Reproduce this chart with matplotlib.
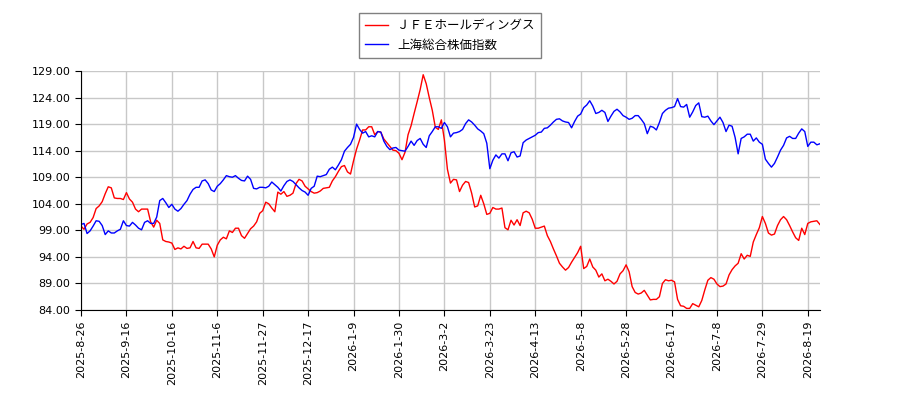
import matplotlib
matplotlib.use('Agg')
import matplotlib.pyplot as plt
from matplotlib.ticker import FormatStrFormatter

plt.rcParams['font.family'] = ['Noto Sans CJK JP', 'DejaVu Sans']

# JFE holdings, relative price (first day = 100)
jfe = [
    99.8, 99.2, 100.2, 100.5, 101.4, 103.1, 103.6, 104.4, 105.9, 107.2,
    107.0, 105.1, 105.0, 105.0, 104.8, 106.1, 104.9, 104.3, 103.0, 102.5,
    103.0, 103.0, 103.0, 100.6, 99.6, 100.9, 100.3, 97.2, 96.9, 96.8,
    96.6, 95.4, 95.7, 95.5, 96.0, 95.6, 95.7, 96.9, 95.7, 95.6,
    96.4, 96.4, 96.4, 95.5, 94.0, 96.2, 97.2, 97.7, 97.4, 98.9,
    98.6, 99.4, 99.4, 98.0, 97.5, 98.4, 99.3, 99.8, 100.6, 102.2,
    102.7, 104.3, 104.0, 103.2, 102.5, 106.2, 105.8, 106.3, 105.4, 105.6,
    106.0, 107.8, 108.6, 108.3, 107.3, 106.8, 106.3, 106.0, 106.1, 106.4,
    106.9, 107.0, 107.1, 108.3, 109.1, 110.1, 111.0, 111.2, 110.0, 109.6,
    112.1, 114.3, 116.0, 117.9, 117.9, 118.5, 118.5, 117.0, 117.6, 117.5,
    116.2, 115.5, 114.8, 114.1, 114.0, 113.5, 112.3, 113.7, 117.0, 118.7,
    121.0, 123.2, 125.5, 128.3, 126.6, 124.0, 121.6, 118.4, 118.0, 119.8,
    116.0, 110.5, 107.9, 108.6, 108.5, 106.3, 107.5, 108.2, 108.0, 106.0,
    103.4, 103.6, 105.6, 104.0, 102.0, 102.2, 103.3, 103.0, 103.0, 103.2,
    99.5, 99.1, 100.9, 100.0, 101.0, 99.9, 102.3, 102.6, 102.3, 101.1,
    99.4, 99.4, 99.6, 99.8, 98.0, 96.9, 95.5, 94.2, 92.8, 92.1,
    91.5, 92.0, 93.0, 93.9, 94.8, 96.0, 91.8, 92.2, 93.6, 92.1,
    91.5, 90.2, 90.8, 89.5, 89.8, 89.4, 88.9, 89.4, 90.8, 91.4,
    92.5, 91.2, 88.4, 87.3, 87.0, 87.2, 87.7, 86.8, 85.9, 86.0,
    86.0, 86.5, 89.0, 89.7, 89.5, 89.6, 89.3, 86.0, 84.8, 84.7,
    84.3, 84.3, 85.2, 84.9, 84.6, 85.8, 87.8, 89.6, 90.1, 89.8,
    88.9, 88.4, 88.5, 88.9, 90.6, 91.6, 92.3, 92.8, 94.6, 93.6,
    94.3, 94.1, 96.8, 98.2, 99.5, 101.6, 100.3, 98.5, 98.1, 98.3,
    99.9, 101.0, 101.6, 101.0, 99.9, 98.7, 97.6, 97.1, 99.4, 98.2,
    100.3, 100.6, 100.7, 100.8, 100.1,
]

# Shanghai composite, relative (first day = 100)
shanghai = [
    100.1, 100.3, 98.4, 98.9, 99.8, 100.8, 100.7, 99.9, 98.2, 98.9,
    98.5, 98.5, 98.9, 99.2, 100.8, 99.9, 99.8, 100.5, 100.0, 99.4,
    99.1, 100.5, 100.8, 100.3, 100.3, 101.5, 104.6, 105.0, 104.2, 103.3,
    103.9, 103.0, 102.6, 103.1, 103.9, 104.6, 105.8, 106.7, 107.1, 107.1,
    108.3, 108.5, 107.8, 106.6, 106.3, 107.3, 107.8, 108.5, 109.3, 109.1,
    109.0, 109.3, 108.8, 108.4, 108.3, 109.2, 108.6, 106.9, 106.8, 107.1,
    107.1, 107.0, 107.3, 108.1, 107.6, 107.1, 106.4, 107.4, 108.2, 108.5,
    108.2, 107.6, 107.0, 106.5, 106.2, 105.6, 106.9, 107.3, 109.2, 109.1,
    109.3, 109.5, 110.5, 110.9, 110.4, 111.3, 112.3, 113.9, 114.6, 115.2,
    116.5, 119.0, 118.0, 117.3, 117.6, 116.6, 116.8, 116.6, 117.6, 117.5,
    115.8, 114.8, 114.2, 114.5, 114.6, 114.1, 114.0, 113.9, 114.8, 115.8,
    115.0, 115.9, 116.3, 115.2, 114.6, 116.8, 117.6, 118.5, 118.5, 118.2,
    119.3, 118.5, 116.6, 117.3, 117.4, 117.6, 118.0, 119.1, 119.8, 119.4,
    118.8, 118.1, 117.7, 117.2, 115.4, 110.6, 112.2, 113.2, 112.6, 113.4,
    113.4, 112.1, 113.6, 113.8, 112.8, 113.0, 115.5, 116.0, 116.3, 116.6,
    116.9, 117.4, 117.5, 118.2, 118.3, 118.8, 119.4, 119.9, 120.0, 119.6,
    119.4, 119.3, 118.3, 119.5, 120.5, 120.9, 122.1, 122.6, 123.4, 122.4,
    121.0, 121.2, 121.6, 121.2, 119.5, 120.5, 121.4, 121.8, 121.3, 120.6,
    120.3, 119.9, 120.1, 120.6, 120.6, 119.9, 119.1, 117.2, 118.6, 118.4,
    117.9, 119.3, 121.0, 121.6, 122.0, 122.1, 122.3, 123.8, 122.3, 122.2,
    122.7, 120.3, 121.3, 122.5, 123.0, 120.4, 120.3, 120.5, 119.6, 118.9,
    119.6, 120.3, 119.3, 117.6, 118.8, 118.6, 116.5, 113.4, 116.3, 116.6,
    117.1, 117.1, 115.8, 116.4, 115.6, 115.2, 112.4, 111.6, 110.9, 111.6,
    112.8, 114.1, 115.0, 116.4, 116.7, 116.3, 116.3, 117.3, 118.1, 117.6,
    114.8, 115.6, 115.6, 115.1, 115.3,
]

# one label every 15 trading days
date_labels = ['2025-8-26', '2025-9-16', '2025-10-16', '2025-11-6', '2025-11-27',
               '2025-12-17', '2026-1-9', '2026-1-30', '2026-3-2', '2026-3-23',
               '2026-4-13', '2026-5-8', '2026-5-28', '2026-6-17', '2026-7-8',
               '2026-7-29', '2026-8-19']
y_ticks = [84, 89, 94, 99, 104, 109, 114, 119, 124, 129]


def main():
    fig = plt.figure(figsize=(9, 4), dpi=100)
    ax = fig.add_axes([0.09, 0.225, 0.821, 0.5975])

    x = list(range(len(jfe)))
    ax.plot(x, jfe, color='red', lw=1, label='ＪＦＥホールディングス')
    ax.plot(x, shanghai, color='blue', lw=1, label='上海総合株価指数')

    ax.set_xlim(0, len(jfe) - 1)
    ax.set_ylim(84, 129)
    ax.set_yticks(y_ticks)
    ax.yaxis.set_major_formatter(FormatStrFormatter('%.2f'))
    ax.set_xticks(range(0, 15 * len(date_labels), 15))
    ax.set_xticklabels(date_labels, rotation=90)
    ax.tick_params(labelsize=8, length=4)
    for lbl in ax.get_xticklabels() + ax.get_yticklabels():
        lbl.set_family('DejaVu Sans')

    ax.grid(True, color='#c8c8c8', lw=1)
    ax.set_axisbelow(True)
    ax.spines['top'].set_visible(False)
    ax.spines['right'].set_visible(False)

    fig.legend(loc='upper center', bbox_to_anchor=(0.5, 0.983), fontsize=9,
               fancybox=False, edgecolor='#808080', framealpha=1,
               borderpad=0.5, handlelength=1.8)

    fig.savefig('out.png', dpi=100)


if __name__ == '__main__':
    main()
